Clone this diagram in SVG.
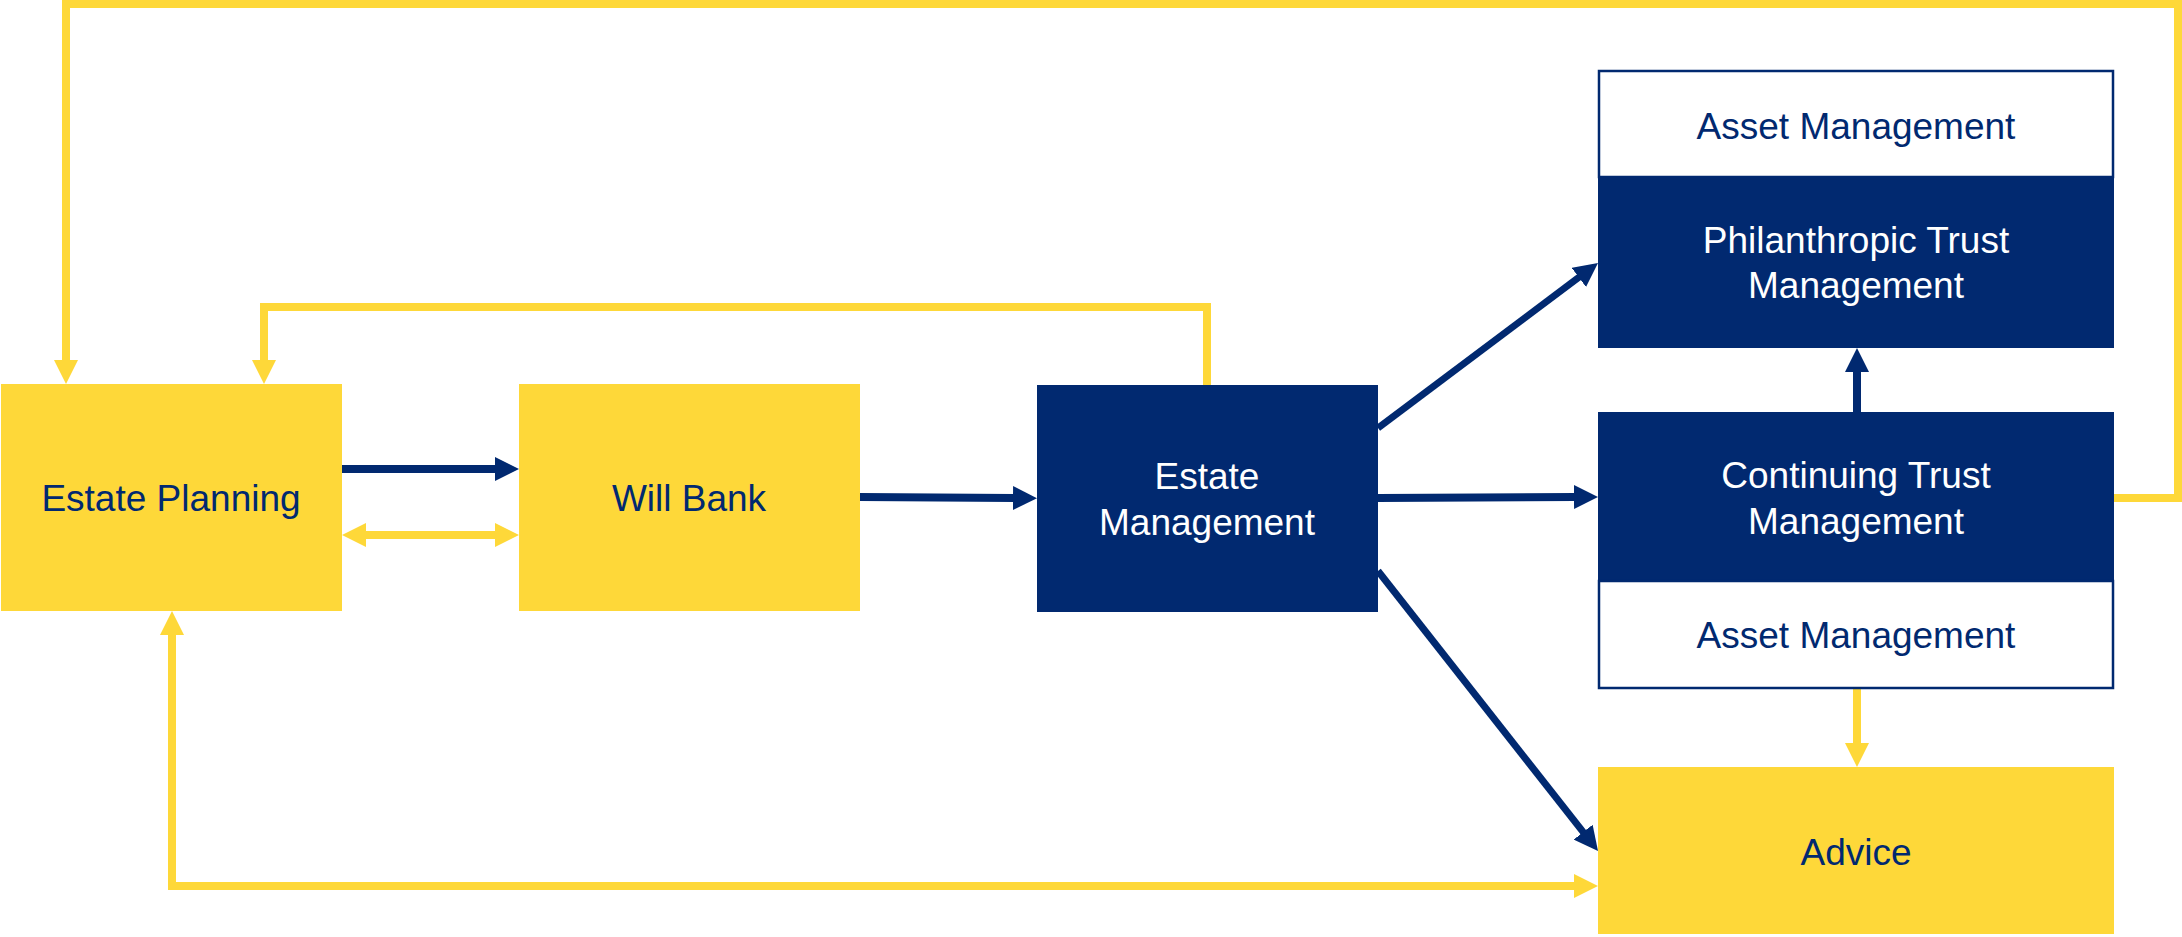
<svg xmlns="http://www.w3.org/2000/svg" width="2182" height="937" viewBox="0 0 2182 937">
<style>
.ny{fill:#012970}
.yl{fill:#FED839}
.wt{fill:#FFFFFF;stroke:#012970;stroke-width:2.5}
.t{font-family:"Liberation Sans",Arial,sans-serif;font-size:37px;text-anchor:middle}
.tn{fill:#012970}
.tw{fill:#FFFFFF}
.cy{fill:none;stroke:#FED839;stroke-width:8}
.cn{fill:none;stroke:#012970;stroke-width:8}
.cd{fill:none;stroke:#012970;stroke-width:7}
</style>
<defs>
<marker id="ay" viewBox="0 0 24 24" markerWidth="24" markerHeight="24" refX="1" refY="12" markerUnits="userSpaceOnUse" orient="auto-start-reverse"><path d="M0,0 L24,12 L0,24 z" fill="#FED839"/></marker>
<marker id="an" viewBox="0 0 24 24" markerWidth="24" markerHeight="24" refX="1" refY="12" markerUnits="userSpaceOnUse" orient="auto-start-reverse"><path d="M0,0 L24,12 L0,24 z" fill="#012970"/></marker>
</defs>
<rect width="2182" height="937" fill="#FFFFFF"/>
<g id="connectors">
<path class="cy" d="M2114,498 L2178,498 L2178,4 L66,4 L66,361" marker-end="url(#ay)"/>
<path class="cy" d="M1207,385 L1207,307 L264,307 L264,361" marker-end="url(#ay)"/>
<path class="cn" d="M342,469 L496,469" marker-end="url(#an)"/>
<path class="cy" d="M365,535 L496,535" marker-start="url(#ay)" marker-end="url(#ay)"/>
<path class="cn" d="M860,497 L1014,498" marker-end="url(#an)"/>
<path class="cd" d="M1378,428 L1579.6,276.8" marker-end="url(#an)"/>
<path class="cn" d="M1378,498 L1575,497" marker-end="url(#an)"/>
<path class="cd" d="M1378,571 L1583.8,832.9" marker-end="url(#an)"/>
<path class="cn" d="M1857,412 L1857,371" marker-end="url(#an)"/>
<path class="cy" d="M1857,689 L1857,744" marker-end="url(#ay)"/>
<path class="cy" d="M1575,886 L172,886 L172,634" marker-start="url(#ay)" marker-end="url(#ay)"/>
</g>
<g id="estate-planning">
<rect class="yl" x="1" y="384" width="341" height="227"/>
<text class="t tn" x="171" y="511">Estate Planning</text>
</g>
<g id="will-bank">
<rect class="yl" x="519" y="384" width="341" height="227"/>
<text class="t tn" x="689" y="511">Will Bank</text>
</g>
<g id="estate-management">
<rect class="ny" x="1037" y="385" width="341" height="227"/>
<text class="t tw" x="1207" y="489">Estate</text>
<text class="t tw" x="1207" y="535">Management</text>
</g>
<g id="philanthropic-trust">
<rect class="wt" x="1599" y="71" width="514" height="106"/>
<text class="t tn" x="1856" y="139">Asset Management</text>
<rect class="ny" x="1598" y="177" width="516" height="171"/>
<text class="t tw" x="1856" y="253">Philanthropic Trust</text>
<text class="t tw" x="1856" y="298">Management</text>
</g>
<g id="continuing-trust">
<rect class="ny" x="1598" y="412" width="516" height="169"/>
<text class="t tw" x="1856" y="488">Continuing Trust</text>
<text class="t tw" x="1856" y="534">Management</text>
<rect class="wt" x="1599" y="581" width="514" height="107"/>
<text class="t tn" x="1856" y="648">Asset Management</text>
</g>
<g id="advice">
<rect class="yl" x="1598" y="767" width="516" height="167"/>
<text class="t tn" x="1856" y="865">Advice</text>
</g>
</svg>
